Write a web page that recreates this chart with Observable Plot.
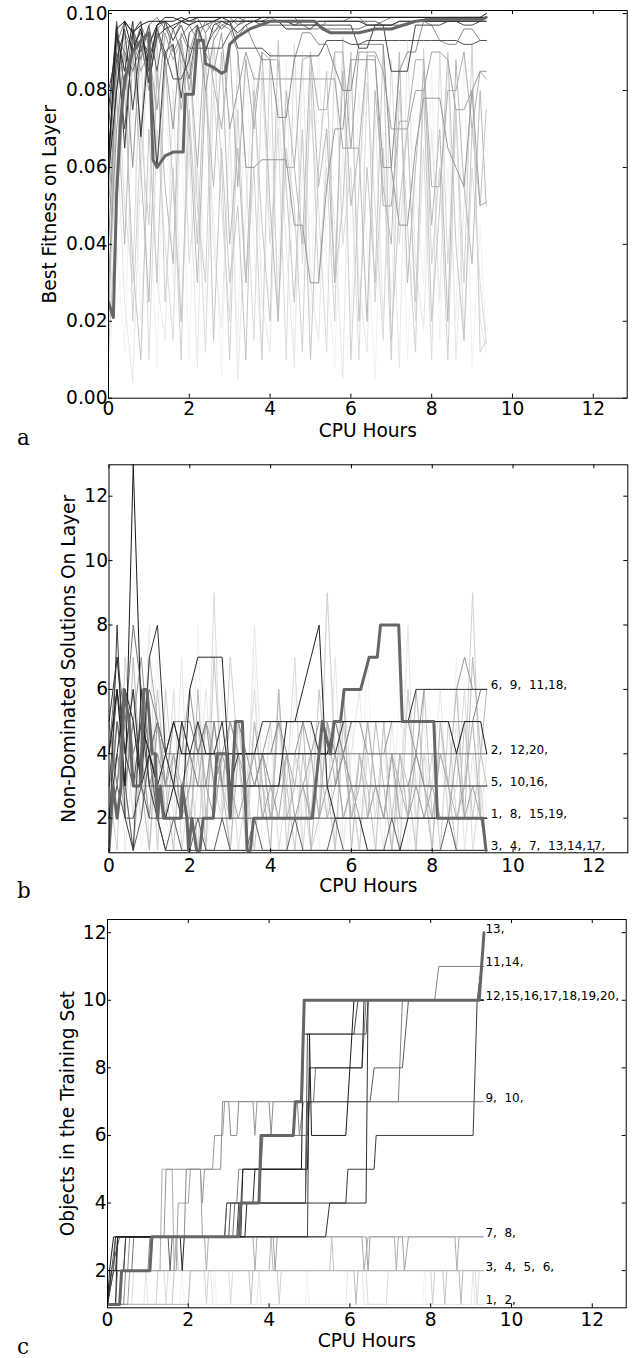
<!DOCTYPE html>
<html><head><meta charset="utf-8">
<script src="https://cdn.jsdelivr.net/npm/d3@7"></script>
<script src="https://cdn.jsdelivr.net/npm/@observablehq/plot@0.6"></script>
<style>
body{margin:0;background:#fff;}
#chart svg{display:block;}
#chart svg text{white-space:pre;}
</style></head><body><div id="chart"></div>
<script>
// ---------- shared ----------
const xTicks = [0, 2, 4, 6, 8, 10, 12];
const sampleHours = [0,0.2,0.4,0.6,0.8,1,1.2,1.4, 1.6,1.8,2,2.2,2.4,2.6,2.8,3, 3.2,3.4,3.6,3.8,4,4.2,4.4,4.6,
  4.8,5,5.2,5.4,5.6,5.8,6,6.2, 6.4,6.6,6.8,7,7.2,7.4,7.6,7.8, 8,8.2,8.4,8.6,8.8,9,9.2,9.35];

// ---------- panel a: best fitness on layer (layers 1..20) ----------
const fitTicks = [0, 0.02, 0.04, 0.06, 0.08, 0.10];
const fit1 = [.005,.040,.012,.080,.020,.060,.008,.090, .030,.070,.010,.085,.025,.050,.006,.075, .015,.090,.040,.010,.070,.030,.088,.012, .060,.020,.092,.035,.008,.065,.018,.080, .040,.005,.070,.025,.090,.010,.055,.030, .085,.015,.060,.020,.090,.008,.045,.015];
const fit2 = [.010,.070,.025,.004,.060,.090,.030,.015, .080,.020,.065,.008,.092,.040,.018,.070, .005,.050,.085,.025,.012,.078,.040,.008, .090,.030,.015,.070,.045,.005,.088,.030, .012,.075,.020,.060,.008,.093,.035,.018, .070,.025,.088,.010,.050,.080,.020,.012];
const fit3 = [.020,.090,.050,.030,.095,.010,.070,.040, .015,.088,.035,.060,.012,.080,.050,.020, .090,.060,.015,.085,.040,.070,.010,.092, .035,.075,.050,.012,.090,.040,.060,.010, .082,.050,.015,.088,.040,.072,.020,.065, .010,.090,.035,.075,.015,.060,.030,.014];
const fit4 = [.030,.060,.094,.020,.070,.045,.095,.025, .060,.010,.090,.050,.030,.094,.060,.010, .075,.030,.060,.010,.090,.020,.065,.050, .012,.085,.030,.060,.020,.094,.010,.055, .090,.025,.065,.010,.080,.045,.012,.091, .035,.060,.010,.075,.030,.092,.012,.015];
const fit5 = [.012,.050,.080,.035,.010,.070,.030,.088, .055,.020,.075,.040,.090,.015,.065,.030, .050,.010,.080,.045,.020,.093,.055,.025, .070,.010,.060,.085,.030,.050,.090,.020, .060,.030,.092,.015,.050,.070,.025,.080, .020,.050,.090,.040,.015,.070,.050,.075];
const fit6 = [.020,.080,.040,.090,.060,.025,.085,.055, .035,.092,.070,.030,.080,.055,.090,.040, .065,.030,.075,.090,.050,.020,.080,.060, .040,.090,.055,.070,.030,.085,.050,.065, .020,.080,.055,.040,.090,.030,.060,.085, .045,.070,.020,.088,.055,.035,.080,.050];
const fit7 = [.020,.095,.080,.090,.070,.096,.060,.085, .092,.075,.090,.060,.095,.082,.070,.091, .055,.088,.070,.090,.088,.088,.060,.060, .088,.089,.075,.075,.090,.090,.065,.065, .089,.089,.050,.050,.072,.072,.088,.088, .055,.055,.080,.080,.090,.070,.085,.083];
const fit8 = [.050,.080,.092,.094,.085,.090,.075,.095, .088,.093,.080,.096,.090,.085,.095,.070, .080,.090,.083,.083,.083,.083,.083,.083, .083,.083,.083,.083,.083,.065,.065,.090, .090,.090,.085,.070,.070,.070,.080,.080, .090,.090,.088,.075,.075,.080,.050,.051];
const fit9 = [.030,.070,.090,.060,.094,.080,.097,.088, .070,.095,.090,.097,.080,.093,.097,.096, .090,.060,.060,.062,.062,.062,.062,.045, .045,.030,.030,.055,.070,.070,.088,.088, .088,.088,.060,.060,.045,.045,.065,.078, .078,.078,.065,.060,.055,.080,.085,.085];
const fit10 = [.040,.085,.095,.090,.097,.092,.096,.098, .090,.094,.097,.093,.098,.095,.097,.098, .094,.097,.092,.088,.088,.073,.073,.088, .095,.095,.092,.092,.086,.080,.080,.092, .092,.092,.092,.060,.085,.090,.090,.098, .097,.093,.092,.092,.096,.096,.093,.093];
const fit11 = [.055,.092,.098,.095,.088,.097,.099,.096, .093,.098,.097,.099,.095,.098,.099,.099, .097,.099,.099,.099,.099,.098,.098,.097, .097,.096,.096,.098,.098,.098,.099,.099, .097,.097,.098,.099,.099,.099,.099,.099, .098,.098,.099,.099,.099,.099,.099,.099];
const fit12 = [.060,.094,.090,.085,.092,.082,.095,.088, .096,.090,.083,.097,.091,.095,.098,.097, .099,.098,.098,.098,.099,.099,.099,.099, .097,.097,.097,.096,.096,.096,.096,.096, .097,.097,.097,.097,.098,.098,.098,.098, .098,.098,.098,.098,.099,.099,.099,.100];
const fit13Hours = [0,0.12,0.2,0.3,0.4,0.6,0.8,1.0,1.1,1.2,1.4,1.6,1.85,1.9,2.1,2.2,2.35,2.4,2.6,2.8,2.9,3.0,3.2,3.5,4.0,5.1,5.3,5.5,6.2,6.6,7.0,7.6,8.0,9.25,9.35];
const fit13 = [.025,.021,.053,.072,.083,.090,.093,.095,.062,.060,.063,.064,.064,.079,.079,.093,.093,.087,.086,.0845,.085,.092,.094,.096,.098,.098,.096,.095,.095,.096,.096,.098,.0985,.0985,.099];
const fit14 = [.070,.098,.080,.096,.090,.097,.085,.098, .093,.097,.091,.091,.091,.091,.091,.095, .097,.098,.098,.097,.097,.097,.097,.097, .098,.098,.098,.098,.098,.098,.098,.098, .098,.098,.097,.097,.097,.097,.098,.098, .098,.098,.098,.098,.098,.098,.098,.098];
const fit15 = [.080,.090,.070,.092,.095,.088,.096,.090, .083,.083,.088,.096,.097,.098,.096,.098, .091,.091,.091,.091,.089,.089,.089,.089, .089,.089,.089,.093,.093,.093,.092,.092, .093,.093,.093,.093,.093,.093,.093,.093, .093,.093,.093,.093,.092,.092,.093,.093];
const fit16 = [.065,.088,.096,.075,.093,.090,.060,.090, .092,.078,.095,.097,.090,.097,.098,.097, .095,.097,.098,.098,.098,.098,.098,.097, .097,.097,.097,.097,.097,.097,.097,.091, .091,.097,.097,.085,.085,.085,.097,.097, .097,.097,.098,.098,.097,.097,.098,.098];
const fit17 = [.060,.097,.065,.095,.098,.082,.094,.096, .097,.098,.098,.098,.098,.098,.098,.098, .098,.098,.098,.099,.099,.099,.099,.099, .099,.099,.099,.099,.099,.099,.099,.099, .099,.099,.099,.099,.099,.099,.099,.099, .099,.099,.099,.099,.099,.099,.099,.100];
const fit18 = [.075,.095,.085,.098,.068,.092,.097,.098, .096,.098,.097,.098,.098,.098,.099,.098, .098,.098,.098,.098,.098,.098,.096,.096, .096,.096,.098,.098,.098,.098,.098,.098, .097,.097,.097,.097,.098,.098,.098,.098, .098,.098,.098,.098,.098,.098,.098,.099];
const fit19 = [.058,.080,.098,.090,.096,.085,.097,.099, .099,.098,.099,.099,.099,.099,.099,.099, .099,.099,.099,.099,.099,.099,.099,.099, .099,.099,.099,.099,.099,.099,.099,.099, .099,.099,.099,.099,.099,.099,.099,.099, .099,.099,.099,.099,.099,.099,.099,.099];
const fit20 = [.062,.096,.098,.095,.097,.098,.098,.098, .098,.099,.098,.099,.099,.099,.099,.099, .099,.099,.099,.099,.099,.099,.099,.099, .099,.099,.099,.099,.099,.099,.099,.099, .099,.099,.099,.099,.099,.099,.099,.099, .099,.099,.099,.099,.099,.099,.099,.099];

// ---------- panel b: non-dominated solutions on layer ----------
const ndsTicks = [2, 4, 6, 8, 10, 12];
const nds1 = [1,4,2,6,1,3,7,2, 1,5,2,8,1,3,6,1, 4,2,7,1,3,5,1,6, 2,4,1,9,3,1,5,2, 7,1,4,2,6,1,3,5, 1,4,2,7,1,3,5,2];
const nds2 = [2,6,1,4,3,8,1,5, 2,7,1,3,6,2,4,1, 5,2,8,3,1,6,2,4, 1,5,3,2,7,1,4,6, 2,3,1,5,2,8,1,4, 3,6,2,5,1,4,2,4];
const nds3 = [1,3,5,2,6,1,4,2, 6,1,3,5,1,9,2,4, 1,3,6,2,5,1,3,7, 1,4,2,5,1,6,3,1, 4,2,5,1,3,6,2,4, 1,5,2,3,6,1,3,1];
const nds4 = [3,1,7,4,2,5,1,6, 3,2,4,1,5,3,2,7, 4,1,5,3,2,6,1,4, 3,1,2,9,4,2,3,1, 5,3,2,4,1,6,3,2, 4,1,5,2,3,9,2,1];
const nds5 = [2,5,3,1,4,2,6,3, 1,5,2,4,1,7,3,2, 5,3,1,4,2,5,3,1, 4,2,6,3,1,5,2,4, 3,1,5,2,4,3,1,6, 2,4,3,1,5,2,4,3];
const nds6 = [1,4,2,7,3,1,5,2, 4,3,1,6,2,5,3,1, 4,2,5,3,1,6,2,3, 5,1,4,2,3,6,1,4, 2,5,3,1,4,2,6,3, 1,5,3,6,2,7,4,6];
const nds7 = [3,5,4,6,3,7,5,4, 3,5,4,3,5,4,3,5, 4,3,3,4,2,3,4,3, 3,4,2,5,3,4,2,3, 5,3,2,4,3,2,4,3, 2,4,3,2,3,5,2,1];
const nds8 = [2,3,5,3,4,2,5,3, 4,2,3,5,3,2,4,3, 2,3,4,2,3,2,4,2, 3,2,2,3,4,2,3,2, 2,3,2,4,2,2,3,2, 3,2,2,4,2,3,2,2];
const nds9 = [4,6,3,5,7,4,5,3, 5,4,6,4,5,3,4,5, 4,4,3,4,5,5,4,4, 5,4,5,5,4,4,5,5, 4,4,4,5,5,5,4,6, 6,6,6,6,7,6,6,6];
const nds10 = [3,4,3,5,3,3,4,3, 3,3,4,3,3,5,3,3, 3,3,3,4,3,3,3,3, 3,3,3,3,3,4,3,3, 3,3,3,3,3,3,4,3, 3,3,3,3,3,3,3,3];
const nds11 = [5,3,6,4,5,6,5,4, 5,5,5,4,5,5,5,5, 5,4,4,4,4,5,5,5, 5,5,5,5,5,4,5,5, 5,5,5,5,5,5,5,5, 5,5,5,5,5,5,6,6];
const nds12 = [4,7,5,8,6,4,5,4, 4,4,4,4,4,4,4,4, 4,4,4,4,4,4,4,4, 4,4,4,4,4,4,4,4, 4,4,4,4,4,4,4,4, 4,4,4,4,4,4,4,4];
const nds13Hours = [0,0.1,0.2,0.3,0.37,0.5,0.6,0.78,0.86,0.94,1.07,1.15,1.2,1.27,1.35,1.77,1.81,1.93,1.97,2.05,2.17,2.25,2.33,2.58,2.67,2.92,3.0,3.13,3.3,3.42,3.5,3.58,5.03,5.28,5.48,5.57,5.73,5.82,6.23,6.44,6.64,6.72,7.17,7.26,8.04,8.13,9.24,9.33];
const nds13 = [1,3,2,3,6,5,3,3,6,6,4,4,2,3,2,2,3,2,1,2,1,1,2,2,4,4,2,5,5,1,1,2,2,5,4,5,5,6,6,7,7,8,8,5,5,2,2,1];
const nds14 = [2,5,3,1,2,4,2,1, 2,1,1,2,1,1,2,1, 1,1,2,1,1,1,1,2, 1,1,1,1,2,1,1,1, 1,1,1,2,1,1,1,1, 1,1,2,1,1,1,1,1];
const nds15 = [2,3,2,2,3,2,2,2, 2,2,2,2,2,2,2,2, 2,2,2,2,2,2,2,2, 2,2,2,2,2,2,2,2, 2,2,2,2,2,2,2,2, 2,2,2,2,2,2,2,2];
const nds16 = [3,6,4,3,5,3,3,3, 3,3,3,3,3,3,3,3, 3,3,3,3,3,3,3,3, 3,3,3,3,3,3,3,3, 3,3,3,3,3,3,3,3, 3,3,3,3,3,3,3,3];
const nds17 = [1,8,2,1,6,3,2,1, 1,1,1,1,1,1,1,1, 1,1,1,1,1,1,1,1, 1,1,1,1,1,1,1,1, 1,1,1,1,1,1,1,1, 1,1,1,1,1,1,1,1];
const nds18 = [5,7,4,6,3,7,8,4, 3,5,4,5,4,4,5,3, 4,4,4,5,5,5,5,5, 5,5,4,4,4,5,5,5, 5,5,5,5,5,5,6,6, 6,6,6,6,6,6,6,6];
const nds19 = [2,4,6,5,3,4,3,2, 3,2,6,7,7,7,7,3, 3,3,3,3,3,3,5,5, 6,7,8,3,2,2,2,2, 1,1,1,1,1,2,2,2, 2,2,2,2,2,2,2,2];
const nds20 = [4,6,3,13,5,4,3,4, 5,4,4,4,4,4,4,4, 4,4,4,4,4,4,4,4, 4,4,4,4,5,5,5,5, 5,5,5,5,5,5,5,5, 5,5,5,4,5,5,5,4];
const ndsLabelTexts = ["6,  9,  11,18,", "2,  12,20,", "5,  10,16,", "1,  8,  15,19,", "3,  4,  7,  13,14,17,"];
const ndsLabelValues = [6, 4, 3, 2, 1];

// ---------- panel c: objects in the training set ([hour, count] samples) ----------
const objTicks = [2, 4, 6, 8, 10, 12];
const obj1 = [[0,1],[1.8,1],[1.85,2],[1.9,1],[2.6,1],[2.65,2],[2.7,1],[4.9,1],[4.95,2],[5.0,1],[7.8,1],[7.85,2],[7.9,1],[9.3,1]];
const obj2 = [[0,1],[0.9,1],[0.95,2],[1.0,1],[2.0,1],[2.05,2],[2.55,2],[2.6,1],[3.7,1],[3.75,2],[3.8,1],[5.9,1],[5.95,2],[6.3,2],[6.35,1],[9.0,1],[9.05,2],[9.1,1],[9.3,1]];
const obj3 = [[0,1],[0.6,1],[0.65,2],[1.4,2],[1.45,1],[1.5,2],[3.0,2],[3.05,1],[3.1,2],[6.4,2],[6.45,1],[6.9,1],[6.95,2],[9.1,2],[9.15,1],[9.2,2],[9.3,2]];
const obj4 = [[0,1],[1.2,1],[1.25,2],[2.4,2],[2.45,1],[2.5,2],[4.2,2],[4.25,1],[4.3,2],[8.0,2],[8.05,1],[8.1,2],[9.3,2]];
const obj5 = [[0,1],[1.6,1],[1.65,2],[1.7,3],[1.75,2],[3.5,2],[3.55,1],[3.6,2],[5.5,2],[5.55,3],[5.6,2],[8.3,2],[8.35,1],[8.4,2],[9.3,2]];
const obj6 = [[0,1],[2.0,1],[2.05,2],[4.0,2],[4.05,3],[4.1,2],[6.1,2],[6.15,1],[6.2,2],[8.7,2],[8.75,1],[8.8,2],[9.3,2]];
const obj7 = [[0,1],[0.3,1],[0.35,2],[1.3,2],[1.35,5],[1.6,5],[1.65,2],[1.7,3],[2.4,3],[2.45,2],[2.5,3],[3.6,3],[3.65,2],[3.7,3],[6.3,3],[6.35,2],[6.45,3],[7.1,3],[7.15,2],[7.2,3],[8.6,3],[8.65,2],[8.7,3],[9.3,3]];
const obj8 = [[0,1],[0.5,1],[0.55,2],[1.7,2],[1.75,4],[2.0,4],[2.05,5],[2.3,5],[2.35,3],[4.1,3],[4.15,2],[4.2,3],[6.4,3],[6.45,2],[6.5,3],[7.3,3],[7.35,2],[7.45,3],[9.3,3]];
const obj9 = [[0,1],[0.2,1],[0.25,2],[0.5,2],[0.55,3],[1.4,3],[1.45,5],[2.3,5],[2.35,4],[2.4,5],[2.6,5],[2.65,6],[2.85,6],[2.9,7],[3.6,7],[3.65,6],[3.7,7],[9.3,7]];
const obj10 = [[0,1],[0.4,1],[0.45,2],[1.0,2],[1.05,3],[1.9,3],[1.95,5],[2.8,5],[2.85,7],[3.0,7],[3.05,6],[3.2,6],[3.25,7],[4.0,7],[4.05,6],[4.1,7],[4.7,7],[4.75,6],[4.85,7],[9.3,7]];
const obj11 = [[0,1],[0.1,2],[0.4,2],[0.45,3],[2.9,3],[2.95,4],[3.2,4],[3.25,5],[4.9,5],[4.95,7],[7.2,7],[7.3,10],[8.1,10],[8.2,11],[9.3,11]];
const obj12 = [[0,1],[0.15,2],[0.6,2],[0.65,3],[3.1,3],[3.15,4],[3.3,4],[3.35,5],[3.8,5],[3.85,6],[4.95,6],[5.0,7],[5.1,7],[5.15,8],[6.3,8],[6.4,10],[9.3,10]];
const obj13 = [[0,1],[0.3,1],[0.35,2],[1.05,2],[1.1,3],[3.25,3],[3.3,4],[3.75,4],[3.8,6],[4.6,6],[4.65,7],[4.8,7],[4.87,10],[9.2,10],[9.26,11],[9.32,12]];
const obj14 = [[0,1],[0.1,2],[0.2,3],[1.5,3],[1.55,2],[1.6,3],[3.0,3],[3.05,4],[4.9,4],[4.95,7],[6.5,7],[6.6,8],[7.3,8],[7.45,10],[9.15,10],[9.25,11],[9.3,11]];
const obj15 = [[0,1],[0.1,2],[0.3,3],[2.9,3],[2.95,4],[4.9,4],[4.95,9],[6.4,9],[6.45,10],[9.3,10]];
const obj16 = [[0,1],[0.15,2],[0.2,3],[4.95,3],[5.0,9],[6.1,9],[6.2,10],[9.3,10]];
const obj17 = [[0,1],[0.1,2],[0.4,2],[0.45,3],[3.2,3],[3.25,4],[5.9,4],[5.95,5],[6.6,5],[6.65,6],[9.05,6],[9.15,10],[9.3,10]];
const obj18 = [[0,2],[0.2,2],[0.25,3],[5.4,3],[5.5,4],[6.4,4],[6.45,10],[9.3,10]];
const obj19 = [[0,1],[0.2,1],[0.25,3],[1.8,3],[1.85,2],[1.9,3],[3.4,3],[3.45,4],[3.6,4],[3.65,5],[4.95,5],[5.0,8],[6.3,8],[6.35,10],[9.3,10]];
const obj20 = [[0,1],[0.05,2],[0.15,3],[3.3,3],[3.35,5],[4.8,5],[4.85,9],[5.0,9],[5.05,6],[5.9,6],[6.1,10],[9.3,10]];
const objLabelTexts = ["13,", "11,14,", "12,15,16,17,18,19,20,", "9,  10,", "7,  8,", "3,  4,  5,  6,", "1,  2,"];
const objLabelValues = [12, 11, 10, 7, 3, 2, 1];

// ---------- build tables ----------
function gridRows(list, hours) {
  const rows = [];
  list.forEach(([layer, vals]) => vals.forEach((v, k) => rows.push({layer, hour: hours[k], value: v})));
  return rows;
}
function pairRows(list) {
  const rows = [];
  list.forEach(([layer, pts]) => pts.forEach(([h, v]) => rows.push({layer, hour: h, value: v})));
  return rows;
}
const fitThin = gridRows([[1,fit1],[2,fit2],[3,fit3],[4,fit4],[5,fit5],[6,fit6],[7,fit7],[8,fit8],[9,fit9],[10,fit10],[11,fit11],[12,fit12],[14,fit14],[15,fit15],[16,fit16],[17,fit17],[18,fit18],[19,fit19],[20,fit20]], sampleHours);
const fitThick = fit13.map((v, k) => ({layer: 13, hour: fit13Hours[k], value: v}));
const ndsThin = gridRows([[1,nds1],[2,nds2],[3,nds3],[4,nds4],[5,nds5],[6,nds6],[7,nds7],[8,nds8],[9,nds9],[10,nds10],[11,nds11],[12,nds12],[14,nds14],[15,nds15],[16,nds16],[17,nds17],[18,nds18],[19,nds19],[20,nds20]], sampleHours);
const ndsThick = nds13.map((v, k) => ({layer: 13, hour: nds13Hours[k], value: v}));
const objThin = pairRows([[1,obj1],[2,obj2],[3,obj3],[4,obj4],[5,obj5],[6,obj6],[7,obj7],[8,obj8],[9,obj9],[10,obj10],[11,obj11],[12,obj12],[14,obj14],[15,obj15],[16,obj16],[17,obj17],[18,obj18],[19,obj19],[20,obj20]]);
const objThick = pairRows([[13,obj13]]);

function makePanel(c) {
  const fw = 638 - c.ml - c.mr;
  const fh = c.h - c.mt - c.mb;
  const marks = [
    Plot.line(c.thin, {x: "hour", y: "value", z: "layer", stroke: "layer", strokeWidth: 1, clip: true}),
    Plot.line(c.thick, {x: "hour", y: "value", stroke: "#666666", strokeWidth: 3, clip: true}),
    Plot.frame({stroke: "black", strokeWidth: 1}),
    Plot.tickX(xTicks, {x: d => d, insetTop: fh - 4, stroke: "black"}),
    Plot.tickX(xTicks, {x: d => d, insetBottom: fh - 4, stroke: "black"}),
    Plot.tickY(c.yTicks, {y: d => d, insetLeft: fw - 4, stroke: "black"}),
    Plot.tickY(c.yTicks, {y: d => d, insetRight: fw - 4, stroke: "black"}),
    Plot.axisX({ticks: xTicks, tickSize: 0, tickPadding: c.xPad, tickFormat: d => String(d), label: null}),
    Plot.axisY({ticks: c.yTicks, tickSize: 0, tickPadding: 1, tickFormat: c.yFormat, label: null}),
    Plot.text(["CPU Hours"], {frameAnchor: "bottom", text: d => d, dy: c.xlabDy, textAnchor: "middle", lineAnchor: "bottom"}),
    Plot.text([c.ylabel], {frameAnchor: "left", text: d => d, rotate: -90, dx: c.ylabDx, textAnchor: "middle", lineAnchor: "bottom"}),
    Plot.text([c.letter], {frameAnchor: "bottom-left", text: d => d, dx: 16.5 - c.ml, dy: c.letterDy, textAnchor: "start", lineAnchor: "bottom", fontFamily: "DejaVu Serif", fontSize: 21.5})
  ];
  if (c.labelTexts) {
    marks.push(Plot.text(c.labelValues, {x: () => c.labelHour, y: d => d, text: (d, i) => c.labelTexts[i], dx: c.labelDx, textAnchor: "start", lineAnchor: "bottom", fontSize: 12, fill: "black"}));
  }
  return Plot.plot({
    width: 638, height: c.h,
    marginTop: c.mt, marginBottom: c.mb, marginLeft: c.ml, marginRight: c.mr,
    x: {domain: [0, 12.84]},
    y: {domain: c.yDomain},
    color: {type: "linear", domain: [1, 20], range: ["#f2f2f2", "#1a1a1a"]},
    style: {fontFamily: "DejaVu Sans", fontSize: "18.6px", background: "white", color: "black", overflow: "visible"},
    marks
  });
}

const chart = document.getElementById("chart");
chart.append(makePanel({h: 450, mt: 10, mb: 52.3, ml: 108, mr: 11.3, yDomain: [0, 0.1008], yTicks: fitTicks, yFormat: d3.format(".2f"),
  thin: fitThin, thick: fitThick, xPad: 4, xlabDy: 39, ylabel: "Best Fitness on Layer", ylabDx: -52.5, letter: "a", letterDy: 46.3}));
chart.append(makePanel({h: 450, mt: 14.3, mb: 47.7, ml: 108.5, mr: 10.7, yDomain: [0.925, 12.975], yTicks: ndsTicks, yFormat: d => String(d),
  thin: ndsThin, thick: ndsThick, xPad: 6, xlabDy: 39.6, ylabel: "Non-Dominated Solutions On Layer", ylabDx: -34, letter: "b", letterDy: 45.4,
  labelTexts: ndsLabelTexts, labelValues: ndsLabelValues, labelHour: 9.35, labelDx: 4}));
chart.append(makePanel({h: 458, mt: 19, mb: 50.7, ml: 107, mr: 12.3, yDomain: [0.9, 12.39], yTicks: objTicks, yFormat: d => String(d),
  thin: objThin, thick: objThick, xPad: 5, xlabDy: 39.5, ylabel: "Objects in the Training Set", ylabDx: -34, letter: "c", letterDy: 45.7,
  labelTexts: objLabelTexts, labelValues: objLabelValues, labelHour: 9.33, labelDx: 1}));
</script></body></html>
